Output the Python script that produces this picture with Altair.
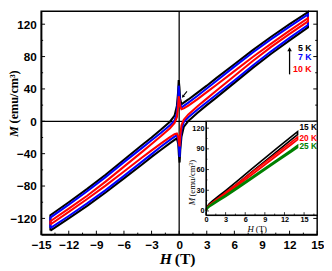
import altair as alt
import pandas as pd

# ---------------- main panel data (M in emu/cm^3, H in T) ----------------
H_DOWN = [14, 12, 10, 8, 6, 4, 3, 2, 1, 0.5, 0.25, 0.1, 0.03, -0.05, -0.12, -0.25, -0.5, -1, -2, -3, -4, -6, -8, -10, -12, -14]
H_UP = [-14, -12, -10, -8, -6, -4, -3, -2, -1, -0.5, -0.25, -0.1, -0.03, 0.05, 0.12, 0.25, 0.5, 1, 2, 3, 4, 6, 8, 10, 12, 14]

M5_DOWN = [135, 120, 104.5, 88, 70.5, 53, 44, 35.5, 27, 23, 21, 28, 42, 51, 35.5, 19, 7, -0.5, -10.5, -20, -29, -47.5, -66, -83.5, -100, -116]
M5_UP = [-135, -120, -104.5, -88, -70.5, -53, -44, -35.5, -27, -23, -21, -28, -42, -51, -35.5, -19, -7, 0.5, 10.5, 20, 29, 47.5, 66, 83.5, 100, 116]

M7_DOWN = [132, 117, 101.5, 85, 67.5, 49.5, 40.5, 31.5, 23, 19, 17, 22, 32.5, 44, 27.5, 10, 1, -5, -14.5, -23.5, -32.5, -50.5, -69, -86.5, -103, -119]
M7_UP = [-132, -117, -101.5, -85, -67.5, -49.5, -40.5, -31.5, -23, -19, -17, -22, -32.5, -44, -27.5, -10, -1, 5, 14.5, 23.5, 32.5, 50.5, 69, 86.5, 103, 119]

M10_DOWN = [127.5, 112, 96, 79.5, 62, 44.5, 36, 27.5, 19.5, 16, 15, 19, 26.5, 31, 17.5, 5, -2, -8.5, -18.5, -28, -37.5, -56, -74.5, -92, -108, -123.5]
M10_UP = [-127.5, -112, -96, -79.5, -62, -44.5, -36, -27.5, -19.5, -16, -15, -19, -26.5, -31, -17.5, -5, 2, 8.5, 18.5, 28, 37.5, 56, 74.5, 92, 108, 123.5]

X_TICKS = [-15, -12, -9, -6, -3, 0, 3, 6, 9, 12, 15]
X_MINOR = [-13.5, -10.5, -7.5, -4.5, -1.5, 1.5, 4.5, 7.5, 10.5, 13.5]
Y_TICKS = [-120, -80, -40, 0, 40, 80, 120]
Y_MINOR = [-100, -60, -20, 20, 60, 100]

MAIN_LABELS = ["5 K", "7 K", "10 K"]
MAIN_LABEL_M = [91, 79, 65]
MAIN_COLORS = ["black", "blue", "red"]

# ---------------- inset data ----------------
HI = [0, 0.2, 0.5, 1, 2, 3, 5, 7, 9, 11, 13, 14]
M15_UP = [0, 4.5, 8, 12, 19, 26, 41, 56.5, 72, 87.5, 103, 110.5]
M15_DN = [1, 6.5, 10.5, 14.5, 22, 29.5, 45, 61, 76.5, 92, 107.5, 115]
M20_UP = [0, 4, 7, 10.5, 17, 24, 38, 52.5, 67, 81.5, 96, 103.5]
M20_DN = [0.5, 5.5, 9, 12.5, 19.5, 27, 41, 56, 70.5, 85, 99.5, 107]
M25_UP = [0, 3.5, 6, 9, 15, 21, 33.5, 46.5, 59.5, 72.5, 85.5, 92]
M25_DN = [0.5, 4.5, 7.5, 11, 17, 23, 36, 49, 62, 75, 88, 95]

INSET_X_TICKS = [0, 3, 6, 9, 12, 15]
INSET_X_MINOR = [1.5, 4.5, 7.5, 10.5, 13.5, 16.5]
INSET_Y_TICKS = [0, 30, 60, 90, 120]
INSET_Y_MINOR = [15, 45, 75, 105]
INSET_LABELS = ["15 K", "20 K", "25 K"]
INSET_LABEL_M = [121, 106, 93.5]
INSET_COLORS = ["black", "red", "green"]

W, H = 283, 229
SANS = "Liberation Sans"
SERIF = "Liberation Serif"

XS = alt.Scale(domain=[-15, 15], nice=False, zero=False)
YS = alt.Scale(domain=[-140, 136], nice=False, zero=False)

x_axis = alt.Axis(values=X_TICKS, ticks=False, tickSize=0, labelPadding=5, labelFont=SANS,
                  labelFontWeight="bold", labelFontSize=12, labelColor="black",
                  domainColor="black", domainWidth=1.5, grid=False, title=None,
                  labelFlush=False, labelOverlap=False)
y_axis = alt.Axis(values=Y_TICKS, ticks=False, tickSize=0, labelPadding=5, labelFont=SANS,
                  labelFontWeight="bold", labelFontSize=12, labelColor="black",
                  domainColor="black", domainWidth=1.5, grid=False, title=None,
                  labelFlush=False, labelOverlap=False)


def X(f="H"):
    return alt.X(f"{f}:Q", scale=XS, axis=x_axis)


def Y(f="M"):
    return alt.Y(f"{f}:Q", scale=YS, axis=y_axis)


def loop_df(hu, mu, hd, md):
    hh = hu + hd + [hu[0]]
    mm = mu + md + [mu[0]]
    return pd.DataFrame({"H": hh, "M": mm, "i": list(range(len(hh)))})


zero_v = alt.Chart(pd.DataFrame({"H": [0]})).mark_rule(color="black", strokeWidth=1.3).encode(x=X())
zero_h = alt.Chart(pd.DataFrame({"M": [0]})).mark_rule(color="black", strokeWidth=1.3).encode(y=Y())

loops = []
for mu, md, col in [(M5_UP, M5_DOWN, "black"), (M7_UP, M7_DOWN, "blue"), (M10_UP, M10_DOWN, "red")]:
    loops.append(
        alt.Chart(loop_df(H_UP, mu, H_DOWN, md))
        .mark_line(color=col, strokeWidth=2.1)
        .encode(x=X(), y=Y(), order="i:Q")
    )

xt_major = alt.Chart(pd.DataFrame({"H": X_TICKS})).mark_rule(color="black", strokeWidth=1).encode(
    x=X(), y=alt.value(H), y2=alt.value(H - 4))
xt_minor = alt.Chart(pd.DataFrame({"H": X_MINOR})).mark_rule(color="black", strokeWidth=1).encode(
    x=X(), y=alt.value(H), y2=alt.value(H - 2))
yt_major = alt.Chart(pd.DataFrame({"M": Y_TICKS})).mark_rule(color="black", strokeWidth=1).encode(
    y=Y(), x=alt.value(0), x2=alt.value(4))
yt_minor = alt.Chart(pd.DataFrame({"M": Y_MINOR})).mark_rule(color="black", strokeWidth=1).encode(
    y=Y(), x=alt.value(0), x2=alt.value(2))
yr_major = alt.Chart(pd.DataFrame({"M": Y_TICKS})).mark_rule(color="black", strokeWidth=1).encode(
    y=Y(), x=alt.value(W), x2=alt.value(W - 4))
yr_minor = alt.Chart(pd.DataFrame({"M": Y_MINOR})).mark_rule(color="black", strokeWidth=1).encode(
    y=Y(), x=alt.value(W), x2=alt.value(W - 2))

# annotations in the main panel
arrow_rule = alt.Chart(pd.DataFrame({"H": [12], "M": [58], "M2": [87]})).mark_rule(
    color="black", strokeWidth=1.3).encode(x=X(), y=Y(), y2="M2:Q")
arrow_head = alt.Chart(pd.DataFrame({"H": [12], "M": [89]})).mark_point(
    shape="triangle-up", filled=True, size=22, color="black", opacity=1).encode(x=X(), y=Y())
temp_labels = alt.Chart(pd.DataFrame({"H": [14.4] * 3, "M": MAIN_LABEL_M, "t": MAIN_LABELS, "c": MAIN_COLORS})).mark_text(
    align="right", baseline="middle", font=SANS, fontWeight="bold", fontSize=9).encode(
    x=X(), y=Y(), text="t:N", color=alt.Color("c:N", scale=None))
small_rule = alt.Chart(pd.DataFrame({"H": [0.85], "H2": [0.45], "M": [37], "M2": [31.5]})).mark_rule(
    color="black", strokeWidth=1.1).encode(x=X(), x2="H2:Q", y=Y(), y2="M2:Q")
small_head = alt.Chart(pd.DataFrame({"H": [0.4], "M": [30.5]})).mark_point(
    shape="triangle-up", filled=True, size=12, angle=220, color="black", opacity=1).encode(x=X(), y=Y())


def txt(s, x, y, font=SERIF, size=16, weight="bold", style="normal", align="left", angle=0, baseline="alphabetic"):
    return alt.Chart(pd.DataFrame({"t": [s]})).mark_text(
        font=font, fontSize=size, fontWeight=weight, fontStyle=style, align=align,
        angle=angle, baseline=baseline, color="black").encode(
        text="t:N", x=alt.value(x), y=alt.value(y))


main_titles = [
    txt("H", 134, 259, style="italic", align="right"),
    txt("(T)", 137, 259),
    txt("M", -28, 129, size=12.5, style="italic", angle=270, baseline="middle"),
    txt("(emu/cm³)", -28, 115, size=12.5, angle=270, baseline="middle"),
]

main = alt.layer(zero_v, zero_h, *loops, xt_major, xt_minor, yt_major, yt_minor, yr_major, yr_minor,
                 arrow_rule, arrow_head, temp_labels, small_rule, small_head, *main_titles)

# ---------------- inset ----------------
IXS = alt.Scale(domain=[0, 17], range=[169, W], nice=False, zero=False)
IYS = alt.Scale(domain=[-6, 130], range=[209, 112.8], nice=False, zero=False)
ix_axis = alt.Axis(orient="bottom", offset=-(H - 209), values=INSET_X_TICKS, ticks=False, tickSize=0,
                   labelPadding=1, labelFont=SANS, labelFontWeight="bold", labelFontSize=7.5,
                   labelColor="black", domainColor="black", domainWidth=1, grid=False, title=None,
                   labelFlush=False, labelOverlap=False, zindex=2)
iy_axis = alt.Axis(orient="left", offset=-169, values=INSET_Y_TICKS, ticks=False, tickSize=0,
                   labelPadding=2, labelFont=SANS, labelFontWeight="bold", labelFontSize=7.5,
                   labelColor="black", domainColor="black", domainWidth=1, grid=False, title=None,
                   labelFlush=False, labelOverlap=False, zindex=2)


def IX(f="h"):
    return alt.X(f"{f}:Q", scale=IXS, axis=ix_axis)


def IY(f="m"):
    return alt.Y(f"{f}:Q", scale=IYS, axis=iy_axis)


frame = alt.Chart(pd.DataFrame({"h": [0], "h2": [17], "m": [-6], "m2": [130]})).mark_rect(
    fill="white", stroke="black", strokeWidth=1.2).encode(x=IX(), x2="h2:Q", y=IY(), y2="m2:Q")

inset_lines = []
for mu, md, col in [(M15_UP, M15_DN, "black"), (M20_UP, M20_DN, "red"), (M25_UP, M25_DN, "green")]:
    hh = HI + HI[::-1]
    mm = mu + md[::-1]
    inset_lines.append(
        alt.Chart(pd.DataFrame({"h": hh, "m": mm, "i": list(range(len(hh)))}))
        .mark_line(color=col, strokeWidth=1.7)
        .encode(x=IX(), y=IY(), order="i:Q")
    )

ixt_major = alt.Chart(pd.DataFrame({"h": INSET_X_TICKS})).mark_rule(color="black", strokeWidth=0.8).encode(
    x=IX(), y=alt.value(209), y2=alt.value(206))
ixt_minor = alt.Chart(pd.DataFrame({"h": INSET_X_MINOR})).mark_rule(color="black", strokeWidth=0.8).encode(
    x=IX(), y=alt.value(209), y2=alt.value(207.5))
iyt_major = alt.Chart(pd.DataFrame({"m": INSET_Y_TICKS})).mark_rule(color="black", strokeWidth=0.8).encode(
    y=IY(), x=alt.value(169), x2=alt.value(172))
iyt_minor = alt.Chart(pd.DataFrame({"m": INSET_Y_MINOR})).mark_rule(color="black", strokeWidth=0.8).encode(
    y=IY(), x=alt.value(169), x2=alt.value(170.5))

inset_labels = alt.Chart(pd.DataFrame({"h": [14.3] * 3, "m": INSET_LABEL_M, "t": INSET_LABELS, "c": INSET_COLORS})).mark_text(
    align="left", baseline="middle", font=SANS, fontWeight="bold", fontSize=8.5).encode(
    x=IX(), y=IY(), text="t:N", color=alt.Color("c:N", scale=None))

inset_titles = [
    txt("H", 218, 226, size=9, weight="normal", style="italic", align="right"),
    txt("(T)", 220, 226, size=9, weight="normal"),
    txt("M", 155, 199, size=9, weight="normal", style="italic", angle=270, baseline="middle"),
    txt("(emu/cm³)", 155, 190, size=9, weight="normal", angle=270, baseline="middle"),
]

inset = alt.layer(frame, *inset_lines, ixt_major, ixt_minor, iyt_major, iyt_minor, inset_labels, *inset_titles)

chart = (
    alt.layer(main, inset)
    .resolve_scale(x="independent", y="independent")
    .properties(width=W, height=H, padding={"left": 34, "top": 0, "right": 7, "bottom": 34},
                autosize=alt.AutoSizeParams(type="none"), background="white")
    .configure_view(stroke="black", strokeWidth=1.5)
)

chart.save("out.html", embed_options={"renderer": "svg", "actions": False})
